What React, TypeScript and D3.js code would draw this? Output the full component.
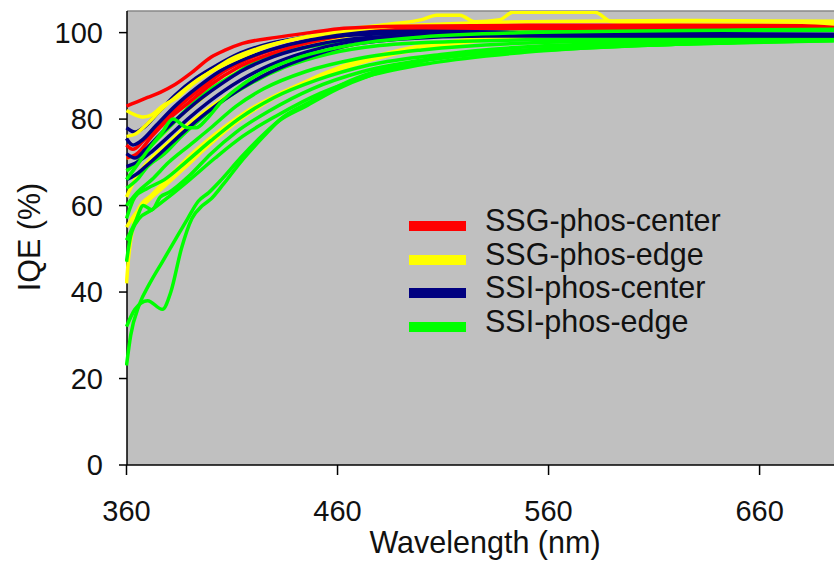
import React from "react";
import * as d3 from "d3";

type Pt = [number, number];

const xTicks = [360, 460, 560, 660];
const yTicks = [0, 20, 40, 60, 80, 100];
const seriesNames = ["SSG-phos-center", "SSG-phos-edge", "SSI-phos-center", "SSI-phos-edge"];
const seriesColors = ["#FF0000", "#FFFF00", "#000080", "#00FF00"];

const ssgCenter: Pt[][] = [
  [[360,83],[365,84],[370,85],[376,86.2],[383,88],[391,90.8],[400,94.3],[407,96],[415,97.5],[431,98.9],[447,100],[463,101],[490,101.5],[550,101.7],[620,101.7],[680,101.6],[700,101]],
  [[360,74],[363,73],[368,75],[376,79],[385,83],[395,87],[406,91],[418,94],[432,96.5],[450,98.5],[470,100],[500,101],[600,101.2],[700,101]],
  [[360,71],[365,72],[372,76],[380,80],[390,84],[400,88],[413,92],[428,95],[445,97.5],[465,99.5],[490,100.5],[550,101],[700,100.8]],
];

const ssgEdge: Pt[][] = [
  [[360,82],[364,81],[368,80.5],[372,81],[377,83],[384,85],[391,88],[400,91],[410,94],[422,96.3],[438,98.3],[455,99.8],[475,101],[510,102],[560,102.6],[620,102.8],[700,102.6]],
  [[360,76],[364,76.5],[370,79],[376,82],[383,85],[392,88.5],[402,91.5],[415,94.5],[430,97.3],[448,99.3],[465,100.8],[485,102],[500,103],[507,104],[518,104],[525,102.5],[537,103],[543,104.7],[582,104.7],[590,102.5],[620,102],[700,101.8]],
  [[360,71],[364,71.5],[370,73.5],[377,76.5],[385,80.5],[395,84.5],[405,88.5],[418,92.3],[433,95.3],[450,97.8],[470,99.7],[500,101],[560,101.5],[700,101.5]],
  [[360,62],[364,66],[369,69.5],[375,72.5],[382,75.5],[391,79.5],[402,83.5],[415,87.5],[432,91.5],[452,95.3],[475,98],[510,100],[580,101],[700,101.2]],
  [[360,55],[364,58],[370,61],[378,64.5],[387,68.5],[398,73.5],[410,78.5],[425,83.5],[442,88],[462,92.2],[490,96],[530,98.8],[600,100.5],[700,101]],
  [[360,42],[361,48],[363,55],[366,59.5],[372,62.5],[380,66.5],[390,71.5],[402,76.5],[416,81.5],[435,86.5],[458,91],[485,94.8],[525,98],[590,100],[700,101]],
];

const ssiCenter: Pt[][] = [
  [[360,78],[364,77],[368,78],[375,81.5],[383,85.5],[393,89.5],[403,92.5],[414,95.3],[428,97.5],[445,99],[465,100],[500,100.3],[560,100],[620,99.8],[700,99.6]],
  [[360,75.5],[363,74],[367,75],[374,78.5],[383,83],[394,87.5],[404,91],[414,93.5],[428,96],[447,98.3],[470,99.5],[510,100],[600,99.6],[700,99.4]],
  [[360,72],[364,71],[369,73],[376,76.5],[385,80.5],[396,85],[406,88.5],[414,91],[430,94.5],[450,97.2],[475,98.9],[520,99.6],[700,99.5]],
  [[360,69],[365,70],[372,72.5],[380,76],[389,80],[399,84],[414,89],[428,92.5],[445,95.5],[465,97.8],[492,99],[540,99.4],[700,99.3]],
  [[360,66],[364,67],[369,69],[377,72.5],[387,77],[398,81.5],[414,87],[428,90.8],[444,94],[463,96.8],[490,98.5],[530,99.2],[700,99.2]],
];

const ssiEdge: Pt[][] = [
  [[360,68],[365,70],[370,73],[376,76],[382,79],[390,83],[400,87],[410,90],[420,93],[435,95.5],[450,97],[470,98.5],[500,99.5],[540,100],[600,100.3],[660,100.5],[700,100.5]],
  [[360,66],[366,70],[372,74],[377,77],[382,80],[389,78],[393,78],[398,80],[405,84],[415,88],[425,91],[440,94],[455,96],[475,97.8],[500,99],[550,100],[650,100.6],[700,100.8]],
  [[360,64],[365,66],[370,69],[378,72],[386,76],[395,80],[405,84],[418,88],[435,92],[455,95],[480,97],[520,98],[600,98.6],[700,99]],
  [[360,60],[365,63],[372,66],[380,70],[390,74],[400,78],[412,83],[425,87],[445,91],[470,94],[500,96],[550,97.6],[620,98.2],[700,98.6]],
  [[360,57],[364,62],[370,64],[378,66],[388,70],[400,75],[413,80],[430,85],[450,89],[475,92.5],[510,95],[560,97],[640,98],[700,98.4]],
  [[360,52],[364,56],[368,60],[372,59],[376,62],[380,63],[390,67],[400,72],[412,77],[428,82],[448,87],[472,91],[505,94],[550,96],[620,97.6],[700,98.3]],
  [[360,47],[362,53],[366,57],[372,59],[380,62],[390,66],[402,71],[415,76],[432,81],[452,86],[475,90],[505,93],[550,95.5],[620,97.3],[700,98.2]],
  [[360,32],[364,36],[370,38],[377,36],[381,40],[386,50],[391,57],[396,60],[400,61.5],[406,65],[414,70],[425,76],[433,80],[447,84],[462,88],[478,91],[495,93],[515,94.5],[560,96],[620,97.3],[700,98.2]],
  [[360,23],[362,30],[366,37],[371,42],[377,47],[383,52],[389,57],[394,61],[399,63],[405,66],[414,71],[424,76],[432,79.5],[445,83],[460,87],[475,90],[493,92.5],[508,94.3],[550,96],[620,97.3],[700,98.2]],
];

const allSeries = [ssgCenter, ssgEdge, ssiCenter, ssiEdge];

// draw order: [series index, curve index]
const drawOrder: [number, number][] = [
  [1,2],[1,3],[1,4],[1,5],
  [3,0],[3,2],[3,3],[3,4],[3,5],[3,6],[3,7],[3,8],
  [0,1],[0,2],
  [2,0],[2,1],[2,2],[2,3],[2,4],
  [1,0],[1,1],
  [0,0],
  [3,1],
];

const W = 834;
const H = 561;
const left = 127;
const top = 11;
const bottom = 465;

export default function App() {
  const x = d3.scaleLinear().domain([360, 700]).range([126.5, 844]);
  const y = d3.scaleLinear().domain([0, 105]).range([bottom, top]);
  const line = d3
    .line<Pt>()
    .x((d) => x(d[0]))
    .y((d) => y(d[1]))
    .curve(d3.curveMonotoneX);
  const font = "'Liberation Sans', Arial, sans-serif";
  const textColor = "#111";
  const legendY = [226, 260, 293, 327];

  return (
    <svg
      width={W}
      height={H}
      style={{ position: "absolute", left: 0, top: 0, background: "#fff" }}
      fontFamily={font}
    >
      <defs>
        <clipPath id="plotClip">
          <rect x={left - 2} y={top} width={W - left + 2} height={bottom - top} />
        </clipPath>
      </defs>
      <rect x={left} y={top} width={W - left} height={bottom - top} fill="#C0C0C0" />
      <line x1={left} x2={W} y1={top} y2={top} stroke="#888" strokeWidth={1.5} />
      {/* axes */}
      <line x1={left} x2={left} y1={top} y2={bottom} stroke="#000" strokeWidth={1.5} />
      <line x1={left} x2={W} y1={bottom} y2={bottom} stroke="#000" strokeWidth={1.5} />
      {yTicks.map((t) => (
        <g key={"y" + t}>
          <line x1={119} x2={left} y1={y(t)} y2={y(t)} stroke="#000" strokeWidth={1.5} />
          <text x={103} y={y(t)} dy="0.35em" textAnchor="end" fontSize={29} fill={textColor}>
            {t}
          </text>
        </g>
      ))}
      {xTicks.map((t) => (
        <g key={"x" + t}>
          <line x1={x(t)} x2={x(t)} y1={bottom} y2={bottom + 10} stroke="#000" strokeWidth={1.5} />
          <text x={x(t)} y={521} textAnchor="middle" fontSize={29} fill={textColor}>
            {t}
          </text>
        </g>
      ))}
      <g clipPath="url(#plotClip)">
        {drawOrder.map(([s, c], i) => (
          <path
            key={i}
            d={line(allSeries[s][c]) || ""}
            fill="none"
            stroke={seriesColors[s]}
            strokeWidth={3.5}
            strokeLinejoin="round"
          />
        ))}
      </g>
      {/* legend */}
      {seriesNames.map((n, i) => (
        <g key={n}>
          <line x1={409} x2={466} y1={legendY[i]} y2={legendY[i]} stroke={seriesColors[i]} strokeWidth={10} />
          <text x={485} y={legendY[i] + 5} fontSize={30.5} fill={textColor}>
            {n}
          </text>
        </g>
      ))}
      <text x={485} y={553} textAnchor="middle" fontSize={30.5} fill={textColor}>
        Wavelength (nm)
      </text>
      <text
        transform={`translate(40,237) rotate(-90)`}
        textAnchor="middle"
        fontSize={30.5}
        fill={textColor}
      >
        IQE (%)
      </text>
    </svg>
  );
}
